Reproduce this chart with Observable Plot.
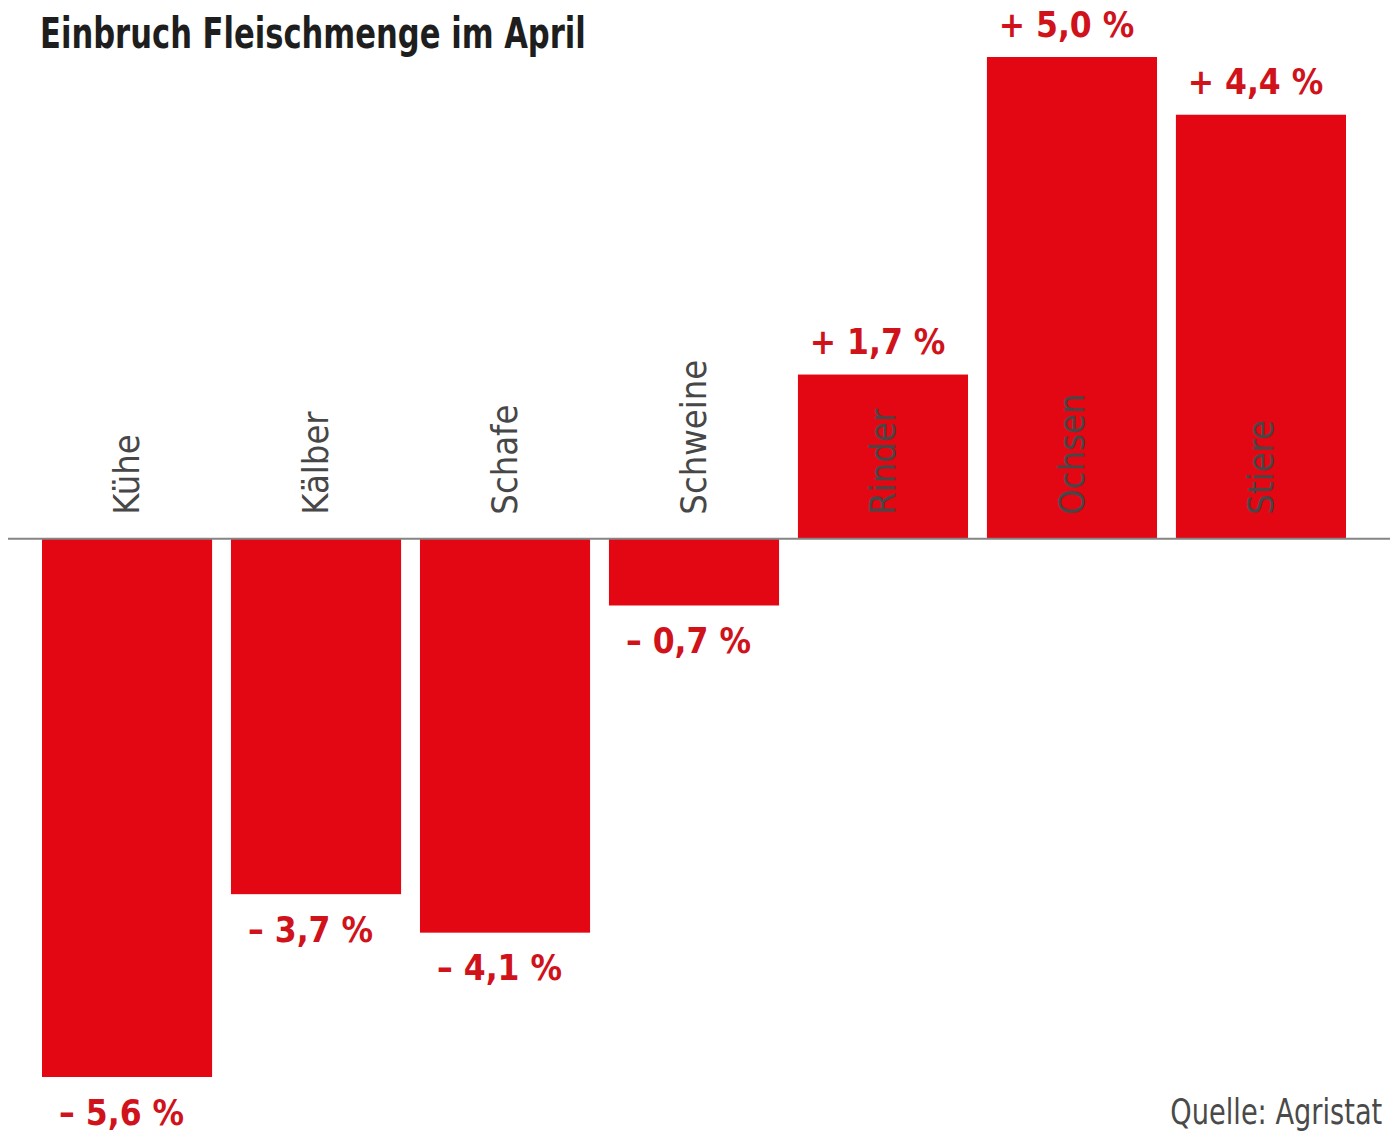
<!DOCTYPE html>
<html><head><meta charset="utf-8">
<script src="https://cdn.jsdelivr.net/npm/d3@7"></script>
<script src="https://cdn.jsdelivr.net/npm/@observablehq/plot@0.6"></script>
<style>
body{margin:0;background:#fff;}
#wrap{position:relative;width:1400px;height:1145px;overflow:hidden;}
#chart{position:absolute;left:0;top:0;}
#title{position:absolute;left:40px;top:8px;font-family:"DejaVu Sans Condensed","DejaVu Sans",sans-serif;font-weight:bold;font-size:42px;line-height:52px;color:#1e1e1e;transform:scaleX(0.81);transform-origin:left top;white-space:nowrap;letter-spacing:0px;}
#source{position:absolute;right:18px;top:1088px;font-family:"DejaVu Sans Condensed","DejaVu Sans",sans-serif;font-size:36px;line-height:48px;color:#4a4a4a;transform:scaleX(0.84);transform-origin:right top;white-space:nowrap;}
</style>
</head><body>
<div id="wrap">
<div id="chart"></div>
<div id="title">Einbruch Fleischmenge im April</div>
<div id="source">Quelle: Agristat</div>
</div>
<script>
const categories = ["Kühe","Kälber","Schafe","Schweine","Rinder","Ochsen","Stiere"];
const changes = [-5.6,-3.7,-4.1,-0.7,1.7,5.0,4.4];
const data = categories.map((c,i)=>({cat:c, value:changes[i]}));
const fmt = v => (v>0?"+ ":"– ")+Math.abs(v).toFixed(1).replace(".",",")+" %";
const font = "DejaVu Sans Condensed, DejaVu Sans, sans-serif";
const plot = Plot.plot({
  width:1400, height:1145,
  marginLeft:42, marginRight:54, marginTop:57, marginBottom:68,
  x:{domain:categories, paddingInner:0.1, paddingOuter:0, round:false, axis:null},
  y:{domain:[-5.6,5.0], axis:null},
  marks:[
    Plot.barY(data,{x:"cat", y:"value", fill:"#e30613"}),
    Plot.ruleY([0],{stroke:"#858585", strokeWidth:2, insetLeft:-34, insetRight:-44}),
    Plot.text(data,{x:"cat", y:0, text:"cat", rotate:-90, textAnchor:"start", lineAnchor:"middle", dy:-24, fill:"#474747", fontSize:36, fontFamily:font}),
    Plot.text(data.filter(d=>d.value>0),{x:"cat", y:"value", text:d=>fmt(d.value), dy:-32, dx:-6, fill:"#d0121b", fontWeight:"bold", fontSize:35, fontFamily:font}),
    Plot.text(data.filter(d=>d.value<0),{x:"cat", y:"value", text:d=>fmt(d.value), dy:36, dx:-6, fill:"#d0121b", fontWeight:"bold", fontSize:35, fontFamily:font})
  ]
});
document.getElementById("chart").appendChild(plot);
</script>
</body></html>
